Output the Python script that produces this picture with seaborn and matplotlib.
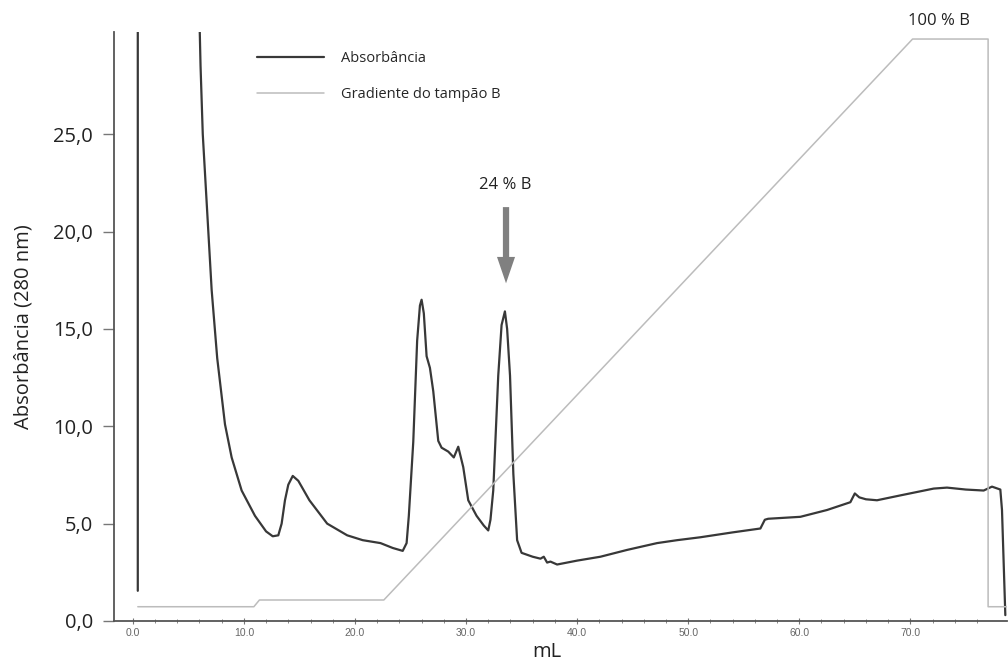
import numpy as np
import pandas as pd
import matplotlib
matplotlib.use("Agg")
import matplotlib.pyplot as plt
import seaborn as sns

# ---- data ----
abs_ml = [0.45, 0.45, 6.0, 6.0, 6.1, 6.3, 6.6, 7.1, 7.6, 8.3, 8.9, 9.8, 11.0, 12.0, 12.6, 13.1,
          13.4, 13.7, 14.0, 14.4, 14.9, 15.9, 17.5, 19.3, 20.7, 22.3, 23.4, 24.3, 24.65, 24.85,
          25.25, 25.6, 25.85, 26.0, 26.2, 26.45, 26.75, 27.05, 27.5, 27.8, 28.4, 28.9, 29.3, 29.75,
          30.2, 30.95, 31.6, 32.0, 32.2, 32.45, 32.9, 33.2, 33.5, 33.7, 33.96, 34.26, 34.6,
          35.0, 36.0, 36.7, 37.0, 37.3, 37.6, 38.2, 40.0, 42.1, 44.5, 47.2, 49.0, 51.1, 54.0,
          56.5, 56.9, 57.2, 60.1, 62.5, 64.6, 65.0, 65.4, 66.0, 67.0, 69.1, 72.1, 73.3, 75.0,
          76.6, 77.35, 78.1, 78.25, 78.55]
abs_val = [1.55, 45.0, 45.0, 31.0, 28.5, 25.0, 22.0, 17.0, 13.5, 10.1, 8.4, 6.7, 5.4, 4.6, 4.35, 4.4,
           5.0, 6.2, 7.0, 7.45, 7.2, 6.2, 5.0, 4.4, 4.15, 4.0, 3.75, 3.6, 4.0, 5.4,
           9.2, 14.4, 16.2, 16.5, 15.8, 13.6, 13.0, 11.8, 9.25, 8.9, 8.7, 8.4, 8.95, 7.9,
           6.2, 5.4, 4.9, 4.65, 5.2, 6.7, 12.6, 15.2, 15.9, 15.0, 12.6, 7.55, 4.15,
           3.5, 3.3, 3.2, 3.3, 3.0, 3.05, 2.9, 3.1, 3.3, 3.65, 4.0, 4.15, 4.3, 4.55,
           4.75, 5.2, 5.25, 5.35, 5.7, 6.1, 6.55, 6.35, 6.25, 6.2, 6.45, 6.8, 6.85, 6.75,
           6.7, 6.9, 6.75, 5.7, 0.3]

grad_ml = [0.45, 10.9, 11.4, 22.6, 70.2, 77.0, 77.0, 78.7]
grad_pct = [-1.2, -1.2, 0.0, 0.0, 100.0, 100.0, -1.2, -1.2]

yticks = [0, 5, 10, 15, 20, 25]
ytick_labels = ["0,0", "5,0", "10,0", "15,0", "20,0", "25,0"]
xticks = [0, 10, 20, 30, 40, 50, 60, 70]
xtick_labels = ["0.0", "10.0", "20.0", "30.0", "40.0", "50.0", "60.0", "70.0"]

df_abs = pd.DataFrame({"mL": abs_ml, "A": abs_val})
df_grad = pd.DataFrame({"mL": grad_ml, "B": grad_pct})

# ---- style ----
sns.set_style("white")
plt.rcParams["font.family"] = ["Open Sans", "DejaVu Sans"]

fig = plt.figure(figsize=(10.08, 6.67), dpi=100)
ax = fig.add_axes([0.113, 0.069, 0.886, 0.883])
ax2 = ax.twinx()

sns.lineplot(data=df_abs, x="mL", y="A", ax=ax, sort=False, estimator=None,
             color="#383838", linewidth=1.6, label="Absorbância", legend=False)
sns.lineplot(data=df_grad, x="mL", y="B", ax=ax2, sort=False, estimator=None,
             color="#bcbcbc", linewidth=1.1, label="Gradiente do tampão B", legend=False)

ax.set_xlim(-1.7, 78.7)
ax.set_ylim(0.5, 30.25)
ax2.set_ylim(-3.74, 101.25)
ax2.set_axis_off()

for s in ["top", "right"]:
    ax.spines[s].set_visible(False)
for s in ["left", "bottom"]:
    ax.spines[s].set_color("#555555")
    ax.spines[s].set_linewidth(1.3)

ax.set_yticks(yticks)
ax.set_yticklabels(ytick_labels, fontsize=14.5, color="#222222")
ax.tick_params(axis="y", which="major", direction="out", length=8, width=1.0,
               color="#777777", pad=7, left=True)
ax.set_xticks(xticks)
ax.set_xticklabels(xtick_labels, fontsize=7.5, color="#666666", family=["Liberation Sans", "DejaVu Sans"])
ax.set_xticks(np.arange(2, 78, 2), minor=True)
ax.tick_params(axis="x", which="major", direction="inout", length=4, width=0.8,
               color="#777777", pad=3, bottom=True)
ax.tick_params(axis="x", which="minor", direction="inout", length=3, width=0.7,
               color="#888888", bottom=True)

ax.set_ylabel("Absorbância (280 nm)", fontsize=14.5, color="#222222")
ax.yaxis.set_label_coords(-0.09, 0.5)
ax.set_xlabel("mL", fontsize=14.5, color="#222222")
ax.xaxis.set_label_coords(0.485, -0.035)

h1, l1 = ax.get_legend_handles_labels()
h2, l2 = ax2.get_legend_handles_labels()
ax2.legend(h1 + h2, l1 + l2, loc="upper left", bbox_to_anchor=(0.145, 0.99),
           frameon=False, fontsize=10.5, handlelength=4.6, handletextpad=1.2,
           labelspacing=1.45)

# annotations
ax.annotate("", xy=(33.6, 17.2), xytext=(33.6, 21.4),
            arrowprops=dict(arrowstyle="simple,head_width=1.3,head_length=1.9,tail_width=0.45",
                            color="#808080", lw=0))
ax.text(33.5, 22.4, "24 % B", ha="center", va="center", fontsize=12, color="#222222")
ax2.text(72.6, 103.2, "100 % B", ha="center", va="center", fontsize=12, color="#222222",
         clip_on=False)

fig.savefig("out.png", dpi=100)
